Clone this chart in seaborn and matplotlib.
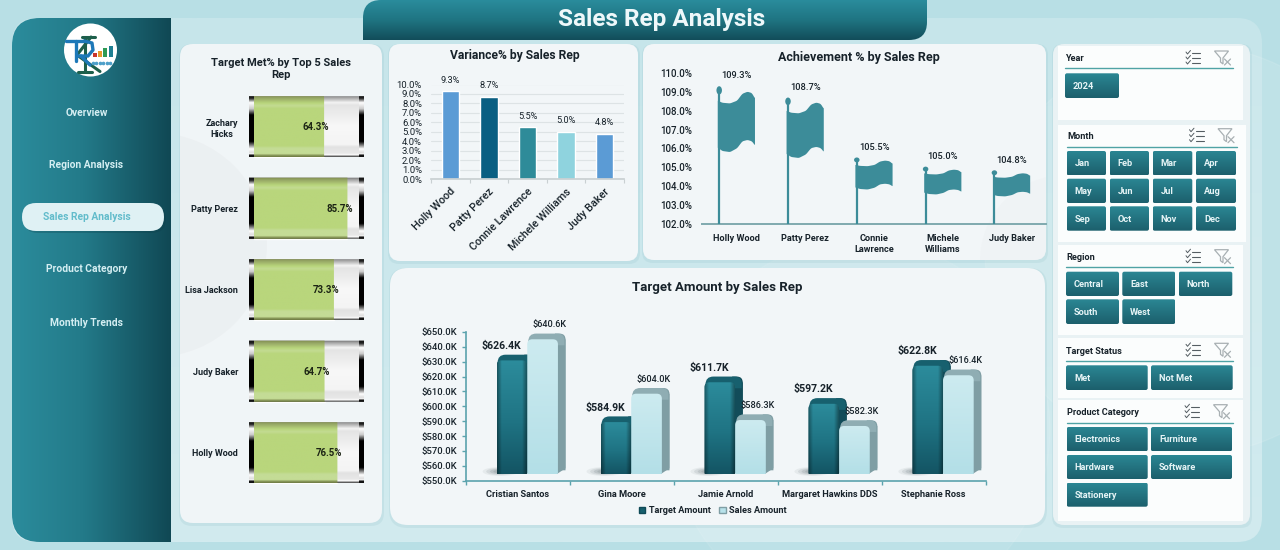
import textwrap
import numpy as np
import pandas as pd
import matplotlib
matplotlib.use("Agg")
import matplotlib.pyplot as plt
import seaborn as sns
from matplotlib.colors import LinearSegmentedColormap
from matplotlib.patches import Circle, Ellipse, Patch, PathPatch, Polygon, Rectangle
from matplotlib.path import Path
from matplotlib.ticker import FuncFormatter, MultipleLocator

W, H = 1280, 550

# Data
met_reps = ["Zachary Hicks", "Patty Perez", "Lisa Jackson", "Judy Baker", "Holly Wood"]
met_pct = [64.3, 85.7, 73.3, 64.7, 76.5]

var_reps = ["Holly Wood", "Patty Perez", "Connie Lawrence", "Michele Williams", "Judy Baker"]
var_pct = [9.3, 8.7, 5.5, 5.0, 4.8]
ach_pct = [109.3, 108.7, 105.5, 105.0, 104.8]

amount_reps = ["Cristian Santos", "Gina Moore", "Jamie Arnold", "Margaret Hawkins DDS", "Stephanie Ross"]
target_amount = [626.4, 584.9, 611.7, 597.2, 622.8]
sales_amount = [640.6, 604.0, 586.3, 582.3, 616.4]

menu_items = ["Overview", "Region Analysis", "Sales Rep Analysis", "Product Category", "Monthly Trends"]
months = ["Jan", "Feb", "Mar", "Apr", "May", "Jun", "Jul", "Aug", "Sep", "Oct", "Nov", "Dec"]
regions = ["Central", "East", "North", "South", "West"]
statuses = ["Met", "Not Met"]
categories = ["Electronics", "Furniture", "Hardware", "Software", "Stationery"]

sns.set_theme(style="white")
plt.rcParams["font.family"] = ["Roboto", "DejaVu Sans"]
INK = "#17222a"
TEAL = "#5ba3ad"

fig = plt.figure(figsize=(W / 100, H / 100), dpi=100)


def px_axes(x0, y0, x1, y1, z=1):
    ax = fig.add_axes([x0 / W, 1 - y1 / H, (x1 - x0) / W, (y1 - y0) / H], zorder=z)
    ax.patch.set_alpha(0)
    return ax


def full_axes(z):
    ax = px_axes(0, 0, W, H, z)
    ax.set_xlim(0, W)
    ax.set_ylim(H, 0)
    ax.set_autoscale_on(False)
    ax.axis("off")
    return ax


bg = full_axes(0)
fx = full_axes(2)


def round_path(x0, y0, x1, y1, tl=0, tr=0, br=0, bl=0):
    v = [(x0 + tl, y0), (x1 - tr, y0), (x1, y0), (x1, y0 + tr), (x1, y1 - br), (x1, y1), (x1 - br, y1),
         (x0 + bl, y1), (x0, y1), (x0, y1 - bl), (x0, y0 + tl), (x0, y0), (x0 + tl, y0), (x0 + tl, y0)]
    c = [Path.MOVETO, Path.LINETO, Path.CURVE3, Path.CURVE3, Path.LINETO, Path.CURVE3, Path.CURVE3,
         Path.LINETO, Path.CURVE3, Path.CURVE3, Path.LINETO, Path.CURVE3, Path.CURVE3, Path.CLOSEPOLY]
    return Path(v, c)


def card(ax, x0, y0, x1, y1, r, color, z=1):
    ax.add_patch(PathPatch(round_path(x0 - 1, y0, x1 + 2, y1 + 3, r, r, r, r), fc="#7fb4bd", ec="none", alpha=0.15, zorder=z))
    ax.add_patch(PathPatch(round_path(x0, y0, x1, y1, r, r, r, r), fc=color, ec="none", zorder=z))


def grad(ax, x0, y0, x1, y1, stops, radii=(0, 0, 0, 0), horizontal=False, z=2):
    cmap = LinearSegmentedColormap.from_list("g", stops)
    ramp = np.linspace(0, 1, 256)
    arr = ramp[None, :] if horizontal else ramp[:, None]
    im = ax.imshow(arr, cmap=cmap, vmin=0, vmax=1, extent=(x0, x1, y1, y0), aspect="auto", origin="upper", zorder=z)
    clip = PathPatch(round_path(x0, y0, x1, y1, *radii), transform=ax.transData)
    im.set_clip_path(clip)
    return im


def to_fx(ax, x, y):
    return fx.transData.inverted().transform(ax.transData.transform((x, y)))


# Page background
bg.add_patch(Rectangle((0, 0), W, H, fc="#b8dfe5", ec="none", zorder=0))
grad(bg, 12, 18, 1262, 542, ["#c6e5ea", "#d2ebef"], (25, 25, 25, 25), z=0.2)
bg.add_patch(Circle((1190, 250), 205, fc="white", alpha=0.10, zorder=0.3))
bg.add_patch(Circle((860, 430), 190, fc="white", alpha=0.08, zorder=0.3))

# Cards
card(bg, 180, 44, 382, 523, 13, "#f0f5f7")
card(bg, 389, 44, 638, 261, 11, "#f2f6f8")
card(bg, 643, 44, 1046, 260, 11, "#f2f6f8")
card(bg, 390, 268, 1045, 525, 18, "#f2f6f8")
card(bg, 1053, 44, 1250, 525, 11, "#e9f2f4")
shade = bg.add_patch(Circle((155, 245), 112, fc="#aab4b8", alpha=0.07, zorder=1.2))
shade.set_clip_path(PathPatch(round_path(180, 44, 382, 523, 13, 13, 13, 13), transform=bg.transData))
shade = bg.add_patch(Circle((1065, 260), 85, fc="#aab4b8", alpha=0.03, zorder=1.2))
shade.set_clip_path(PathPatch(round_path(643, 44, 1046, 260, 11, 11, 11, 11), transform=bg.transData))

# Sidebar
grad(bg, 12, 18, 171, 542, [(0, "#2b8c9c"), (0.45, "#237a89"), (1, "#104854")], (28, 0, 0, 28), horizontal=True)
bg.add_patch(Circle((90.5, 50), 26.5, fc="white", ec="none", zorder=3))
# logo monogram, K behind R
for xs, ys in [([82, 95], [36.5, 36.5]), ([85, 85], [36.5, 72]), ([91, 77], [37, 55]), ([77, 100], [55, 71.5]), ([78, 92], [71.5, 71.5])]:
    bg.plot(xs, ys, color="#1d5f4b", lw=2.2, zorder=4, solid_capstyle="round")
for xs, ys in [([66, 84], [41, 41]), ([76, 76], [41, 61]), ([84, 92, 93, 88, 78], [41, 43, 50, 56, 56]), ([81, 90], [56, 65])]:
    bg.plot(xs, ys, color="#1d78b8", lw=2.4, zorder=4.2, solid_capstyle="round")
for bx, bh, bc in zip([93, 98, 103, 109], [4, 6, 9, 11], ["#c8352b", "#e69a2d", "#2d9a55", "#1f7f92"]):
    bg.add_patch(Rectangle((bx, 57 - bh), 4, bh, fc=bc, ec="none", zorder=4.3))
bg.plot(np.arange(93, 113, 3.4), [63] * 6, ls="none", marker="o", ms=1.6, color="#4d9fc9", zorder=4.3)

for i, label in enumerate(menu_items):
    y = [113.5, 165.5, 217.5, 269.5, 322.5][i]
    active = label == "Sales Rep Analysis"
    if active:
        bg.add_patch(PathPatch(round_path(24, 205, 166, 233, 14, 14, 14, 14), fc="#0c3a44", ec="none", alpha=0.25, zorder=3))
        bg.add_patch(PathPatch(round_path(22, 203, 164, 231, 14, 14, 14, 14), fc="#dff1f4", ec="none", zorder=3))
    bg.text(86.5, y, label, color="#62bccb" if active else "#d4eef2", fontsize=7.4, fontweight="bold", ha="center", va="center", zorder=4)

# Header tab
grad(bg, 363, 0, 927, 40, [(0, "#2a8c9c"), (0.5, "#1f7482"), (1, "#124d5a")], (18, 0, 18, 0), z=3)
bg.text(662, 19.5, "Sales Rep Analysis", color="#eef8fa", fontsize=17.5, fontweight="bold", ha="center", va="center", zorder=4)

# Slicers
BTN = [(0, "#2b8794"), (1, "#1c5f6c")]


def slicer_head(x0, y0, x1, y1, title, tx, ty, line_y, line_x1, cx, fxx):
    bg.add_patch(Rectangle((x0, y0), x1 - x0, y1 - y0, fc="#fbfdfd", ec="none", zorder=1.5))
    bg.text(tx, ty + 0.7, title, color=INK, fontsize=6.6, fontweight="bold", ha="left", va="center", zorder=3)
    bg.plot([tx, line_x1], [line_y, line_y], color="#4fa3a5", lw=1, zorder=3)
    for k in range(3):
        yy = ty - 5 + k * 5
        bg.plot([cx - 7, cx - 5.5, cx - 2.5], [yy - 1, yy + 1, yy - 2.5], color="#555e63", lw=0.7, zorder=3)
        bg.plot([cx - 1, cx + 7], [yy, yy], color="#555e63", lw=0.8, zorder=3)
    bg.add_patch(Polygon([(fxx - 8, ty - 7), (fxx + 6, ty - 7), (fxx + 0.5, ty), (fxx + 0.5, ty + 6), (fxx - 2, ty + 4), (fxx - 2, ty)],
                         closed=True, fc="none", ec="#a8b0b3", lw=0.9, zorder=3))
    bg.plot([fxx + 2, fxx + 8], [ty + 1, ty + 7], color="#a8b0b3", lw=0.9, zorder=3)
    bg.plot([fxx + 2, fxx + 8], [ty + 7, ty + 1], color="#a8b0b3", lw=0.9, zorder=3)


def buttons(labels, xs, ys):
    n = len(xs)
    for i, label in enumerate(labels):
        x0, x1 = xs[i % n]
        y0, y1 = ys[i // n]
        grad(bg, x0, y0, x1, y1, BTN, (2, 2, 2, 2), z=3)
        bg.text(x0 + 8, (y0 + y1) / 2 + 0.7, label, color="#e6f4f6", fontsize=6.7, fontweight="bold", ha="left", va="center", zorder=4)


slicer_head(1058, 46, 1243, 120, "Year", 1065, 58, 68.3, 1233, 1193, 1222.5)
buttons(["2024"], [(1065, 1119)], [(73.3, 98)])
slicer_head(1058, 125, 1246, 241.5, "Month", 1067, 135.7, 146.7, 1237, 1196.5, 1226)
buttons(months, [(1066.7, 1106), (1109.7, 1149), (1152.7, 1192.3), (1196, 1236)], [(151, 175.3), (178.7, 203), (206.3, 230.7)])
slicer_head(1058, 245, 1243, 335, "Region", 1066, 256.7, 266.7, 1233, 1193, 1222.5)
buttons(regions, [(1066, 1119), (1122.3, 1175.3), (1178.7, 1232.3)], [(271.7, 296), (299.3, 324)])
slicer_head(1058, 338, 1243, 397.5, "Target Status", 1066, 350.3, 361.3, 1233, 1193, 1222.5)
buttons(statuses, [(1066, 1147.7), (1151, 1232.7)], [(365.3, 390)])
slicer_head(1058, 400, 1243, 521, "Product Category", 1067, 411.7, 422.7, 1233, 1192, 1221.5)
buttons(categories, [(1066.7, 1147.7), (1151, 1232)], [(427, 451.3), (455, 479), (482.7, 506.7)])

# Chart titles
bg.text(281, 69, "Target Met% by Top 5 Sales\nRep", color=INK, fontsize=8.0, fontweight="bold", ha="center", va="center", linespacing=1.15, zorder=4)
bg.text(515, 55, "Variance% by Sales Rep", color=INK, fontsize=8.7, fontweight="bold", ha="center", va="center", zorder=4)
bg.text(859, 57, "Achievement % by Sales Rep", color=INK, fontsize=9.0, fontweight="bold", ha="center", va="center", zorder=4)
bg.text(717.5, 287, "Target Amount by Sales Rep", color=INK, fontsize=9.5, fontweight="bold", ha="center", va="center", zorder=4)

# Target Met% bars
BODY = [(0, "#666666"), (0.03, "#999999"), (0.12, "#f4f4f4"), (0.16, "#e4e4e4"), (0.3, "#ececec"), (0.5, "#f8f8f8"), (0.8, "#f4f4f4"),
        (0.84, "#e2e2e2"), (0.94, "#e8e8e8"), (0.97, "#ffffff"), (0.985, "#666666"), (1, "#555555")]
CAP = [(0, "#111111"), (0.05, "#222222"), (0.12, "#ffffff"), (0.22, "#cccccc"), (0.32, "#000000"), (0.75, "#000000"), (0.87, "#ffffff"),
       (0.93, "#dddddd"), (0.95, "#ffffff"), (0.97, "#111111"), (1, "#111111")]
GREEN = [(0, "#7d8a4e"), (0.05, "#98a966"), (0.13, "#b9d67c"), (0.17, "#c3db92"), (0.22, "#b9d67c"), (0.82, "#b9d67c"), (0.86, "#c4dc96"),
         (0.95, "#c4dc96"), (0.97, "#8d9d5e"), (1, "#6e7a42")]

ax1 = px_axes(249, 86, 364, 493.5)
sns.barplot(x=met_pct, y=met_reps, orient="h", color="#b9d67c", saturation=1, width=0.75, ax=ax1)
ax1.set_xlim(-4.6, 100.9)
ax1.set_ylim(4.5, -0.5)
ax1.set_autoscale_on(False)
ax1.set_yticks(range(len(met_reps)), [textwrap.fill(n, 12) for n in met_reps], fontsize=6.5, fontweight="bold", color=INK, linespacing=1.3, multialignment="center")
ax1.set_xticks([])
ax1.set_xlabel("")
ax1.set_ylabel("")
ax1.tick_params(axis="y", length=0, pad=8)
sns.despine(ax=ax1, left=True, bottom=True)
for i, (bar, val) in enumerate(zip(ax1.patches, met_pct)):
    y0, y1 = i - 0.375, i + 0.375
    px0, py0 = to_fx(ax1, -4.6, y0)
    px1, py1 = to_fx(ax1, 100.9, y1)
    grad(fx, px0, py0, px1, py1, BODY, z=1)
    grad(fx, px0, py0, px0 + 5, py1, CAP, z=1.2)
    grad(fx, px1 - 5, py0, px1, py1, CAP, z=1.2)
    ex, _ = to_fx(ax1, bar.get_width(), i)
    bx0, _ = to_fx(ax1, 0, i)
    grad(fx, bx0, py0, ex, py1, GREEN, z=1.5)
    fx.text(ex - 8, (py0 + py1) / 2 + 0.5, f"{val:.1f}%", color="#1c2414", fontsize=6.9, fontweight="bold", ha="center", va="center", zorder=2)

# Variance% bars
ax2 = px_axes(431, 84.5, 624, 179.3)
sns.barplot(x=var_reps, y=var_pct, hue=var_reps, palette=["#5b9bd5", "#0a5f82", "#2e8b99", "#8fd3de", "#5b9bd5"],
            saturation=1, width=0.45, legend=False, ax=ax2)
ax2.set_xlim(-0.5, 4.5)
ax2.set_ylim(0, 10)
ax2.yaxis.set_major_locator(MultipleLocator(1))
ax2.yaxis.set_major_formatter(FuncFormatter(lambda v, _: f"{v:.1f}%"))
ax2.grid(axis="y", color="#dde3e5", lw=0.8)
ax2.set_axisbelow(True)
ax2.set_xticks(range(5), var_reps, rotation=45, ha="right", rotation_mode="anchor", fontsize=7.8, fontweight="medium", color=INK)
ax2.set_xticks(np.arange(-0.5, 5), minor=True)
ax2.tick_params(axis="x", which="major", length=0, pad=5)
ax2.tick_params(axis="x", which="minor", bottom=True, length=3, color="#c9d0d2", width=0.8)
ax2.tick_params(axis="y", length=0, pad=6.5, labelsize=6.8, labelcolor=INK)
ax2.set_xlabel("")
ax2.set_ylabel("")
sns.despine(ax=ax2, left=True)
ax2.spines["bottom"].set_color("#c9d0d2")
for i, val in enumerate(var_pct):
    ax2.annotate(f"{val:.1f}%", (i, val), xytext=(0, 8), textcoords="offset points", ha="center", va="center", fontsize=6.6, color=INK, clip_on=False)

# Achievement % flags
ax3 = px_axes(702, 73, 1046, 224)
sns.barplot(x=var_reps, y=ach_pct, color="#3c8c99", saturation=1, width=0.54, ax=ax3)
ax3.set_xlim(-0.5, 4.5)
ax3.set_ylim(102, 110)
ax3.yaxis.set_major_locator(MultipleLocator(1))
ax3.yaxis.set_major_formatter(FuncFormatter(lambda v, _: f"{v:.1f}%"))
ax3.set_xticks(range(5), [textwrap.fill(n, 11) for n in var_reps], fontsize=6.6, fontweight="bold", color=INK, linespacing=1.35)
ax3.tick_params(axis="x", length=0, pad=7)
ax3.tick_params(axis="y", length=0, pad=6.8, labelsize=7, labelcolor=INK)
for t in ax3.get_yticklabels():
    t.set_fontweight("medium")
ax3.set_xlabel("")
ax3.set_ylabel("")
sns.despine(ax=ax3, left=True)
ax3.spines["bottom"].set_color("#7fa9af")
ax3.spines["bottom"].set_linewidth(1.4)

wave_u = [0, 0.12, 0.33, 0.52, 0.66, 0.8, 0.92, 1]
wave_top = [0.105, 0.12, 0.125, 0.105, 0.055, 0.04, 0.05, 0.09]
wave_bot = [0.445, 0.47, 0.478, 0.45, 0.40, 0.39, 0.40, 0.43]
uu = np.linspace(0, 1, 120)
kern = np.ones(9) / 9
for bar, val in zip(ax3.patches, ach_pct):
    x0, bw, h = bar.get_x(), bar.get_width(), bar.get_height() - 102
    bar.set_visible(False)
    top_f = np.convolve(np.pad(np.interp(uu, wave_u, wave_top), 4, mode="edge"), kern, mode="valid")
    bot_f = np.convolve(np.pad(np.interp(uu, wave_u, wave_bot), 4, mode="edge"), kern, mode="valid")
    xs = x0 + uu * bw
    pts = list(zip(xs, val - top_f * h)) + list(zip(xs[::-1], (val - bot_f * h)[::-1]))
    ax3.add_patch(Polygon(pts, closed=True, fc="#3c8c99", ec="none", zorder=3))
    ax3.plot([x0 + 0.02, x0 + 0.02], [102, val - 0.03 * h], color="#3c8c99", lw=1.6, zorder=3, solid_capstyle="butt")
    ax3.add_patch(Ellipse((x0 + 0.02, val - 0.03 * h), 0.08, max(0.06 * h, 0.26), fc="#3c8c99", ec="none", zorder=3))
    ax3.annotate(f"{val:.1f}%", (x0 + bw / 2, val), xytext=(0, 7.5), textcoords="offset points", ha="center", va="center",
                 fontsize=6.7, fontweight="medium", color=INK)

# Target vs sales columns
amount = pd.DataFrame({
    "rep": amount_reps * 2,
    "series": ["Target Amount"] * 5 + ["Sales Amount"] * 5,
    "value": target_amount + sales_amount,
})
ax4 = px_axes(465.8, 332, 985.5, 480.7)
sns.barplot(data=amount, x="rep", y="value", hue="series", palette=["#1d7080", "#b8e2ea"], saturation=1, width=0.59, gap=0, legend=False, ax=ax4)
ax4.set_xlim(-0.5, 4.5)
ax4.set_ylim(550, 650)
ax4.yaxis.set_major_locator(MultipleLocator(10))
ax4.yaxis.set_major_formatter(FuncFormatter(lambda v, _: f"${v:.1f}K"))
ax4.set_xticks(range(5), amount_reps, fontsize=6.7, fontweight="bold", color=INK)
ax4.set_xticks(np.arange(-0.5, 5), minor=True)
ax4.tick_params(axis="x", which="major", length=0, pad=6.5)
ax4.tick_params(axis="x", which="minor", bottom=True, length=3, color=TEAL, width=1)
ax4.tick_params(axis="y", left=True, length=3, color=TEAL, width=1, pad=3.5, labelsize=6.8, labelcolor=INK)
for t in ax4.get_yticklabels():
    t.set_fontweight("medium")
ax4.set_xlabel("")
ax4.set_ylabel("")
sns.despine(ax=ax4)
for side in ["left", "bottom"]:
    ax4.spines[side].set_color(TEAL)
    ax4.spines[side].set_linewidth(1.2)

DX, DY = 9.5, -6.7
DEPTH, RISE = 7.6, 5.7
styles = [
    dict(front=[(0, "#2c8c9c"), (0.55, "#1f7383"), (1, "#135463")], edge=True, cap="#17606e", side="#124c59", fs=7.6, weight="bold", off=-10.5),
    dict(front=[(0, "#cdebf0"), (1, "#b3dfe7")], edge=False, cap="#8fadb3", side="#7f9ea4", fs=6.6, weight="medium", off=7),
]
for k, (cont, st) in enumerate(zip(ax4.containers, styles)):
    for bar in cont:
        bar.set_visible(False)
        bx, bw, val = bar.get_x(), bar.get_width(), bar.get_height()
        x0, top = to_fx(ax4, bx, val) + (DX, DY)
        x1, base = to_fx(ax4, bx + bw, 550) + (DX, DY)
        z = 3 + k
        if k == 0:
            for s, a in [(1, 0.08), (0.8, 0.12), (0.6, 0.16), (0.4, 0.18)]:
                fx.add_patch(Ellipse((x0 + 4, base - 2.5), 36 * s, 9 * s, fc="#56666a", ec="none", alpha=a, zorder=2.5))
        fx.add_patch(PathPatch(round_path(x1 - 3, top - RISE, x1 + DEPTH, base - RISE + 2, 0, 6, 0, 0), fc=st["side"], ec="none", zorder=z))
        fx.add_patch(Polygon([(x1 - 1, top + 2), (x1 + DEPTH, top), (x1 + DEPTH, base - RISE), (x1 - 1, base)], closed=True, fc=st["side"], ec="none", zorder=z))
        fx.add_patch(PathPatch(round_path(x0 + 1, top - RISE, x1 + DEPTH - 1, top + 6, 8, 7, 0, 0), fc=st["cap"], ec="none", zorder=z + 0.1))
        grad(fx, x0, top, x1, base, st["front"], (5, 5, 1, 1), z=z + 0.2)
        if st["edge"]:
            grad(fx, x0, top, x0 + 5, base, [(0, "#00000066"), (1, "#00000000")], (5, 0, 0, 1), horizontal=True, z=z + 0.3)
            grad(fx, x1 - 5, top, x1, base, [(0, "#00000000"), (1, "#00000066")], (0, 5, 1, 0), horizontal=True, z=z + 0.3)
        fx.text((x0 + x1) / 2 + st["off"], top - 14.5, f"${val:.1f}K", color=INK, fontsize=st["fs"], fontweight=st["weight"], ha="center", va="center", zorder=6)

handles = [Patch(fc="#17606e", ec="#0f4a57"), Patch(fc="#b8e2ea", ec="#7f9ea4")]
fig.legend(handles, ["Target Amount", "Sales Amount"], loc="center", bbox_to_anchor=(713 / W, 1 - 510.5 / H), ncol=2, frameon=False,
           prop={"size": 6.6, "weight": "bold"}, handlelength=0.7, handleheight=0.7, handletextpad=0.4, columnspacing=0.9, labelcolor=INK)

fig.savefig("out.png", dpi=100)
